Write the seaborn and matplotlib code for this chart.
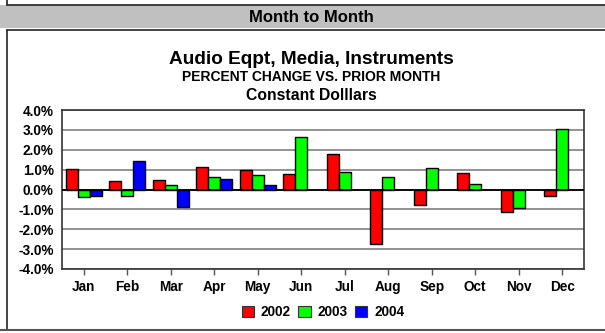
import matplotlib
matplotlib.use("Agg")
import matplotlib.pyplot as plt
from matplotlib.lines import Line2D
from matplotlib.patches import Rectangle
import seaborn as sns
import pandas as pd

months = ['Jan', 'Feb', 'Mar', 'Apr', 'May', 'Jun', 'Jul', 'Aug', 'Sep', 'Oct', 'Nov', 'Dec']
years = ['2002', '2003', '2004']
chg_2002 = [1.03, 0.43, 0.47, 1.15, 1.0, 0.78, 1.8, -2.75, -0.8, 0.83, -1.13, -0.32]
chg_2003 = [-0.4, -0.33, 0.23, 0.65, 0.75, 2.65, 0.87, 0.63, 1.08, 0.28, -0.92, 3.03]
chg_2004 = [-0.33, 1.43, -0.88, 0.53, 0.25]
colors = ['#FF0000', '#00FF00', '#0000FF']

rows = []
for yr, vals in zip(years, [chg_2002, chg_2003, chg_2004]):
    for m, v in zip(months, vals):
        rows.append({'Month': m, 'Year': yr, 'Change': v})
df = pd.DataFrame(rows)

sns.set_style('white')
plt.rcParams['font.family'] = ['Liberation Sans', 'DejaVu Sans']
plt.rcParams['font.weight'] = 'bold'
plt.rcParams['text.color'] = 'black'
plt.rcParams['xtick.color'] = 'black'
plt.rcParams['ytick.color'] = 'black'

W, H = 605, 333
fig = plt.figure(figsize=(W / 100, H / 100), dpi=100)

def fx(x):
    return x / W

def fy(y):
    return 1 - y / H

# header band and frames
fig.patches.append(Rectangle((0, fy(28)), 1, fy(5) - fy(28), transform=fig.transFigure,
                             facecolor='#C0C0C0', edgecolor='none', zorder=0))
frame = dict(transform=fig.transFigure, color='#222222', linewidth=1.2)
fig.lines.append(Line2D([fx(7), 1.01], [fy(4.5), fy(4.5)], **frame))
fig.lines.append(Line2D([fx(7), fx(7)], [1.01, fy(4.5)], **frame))
fig.lines.append(Line2D([fx(7), 1.01], [fy(30), fy(30)], **frame))
fig.lines.append(Line2D([fx(7), fx(7)], [fy(30), fy(330)], **frame))
fig.lines.append(Line2D([-0.01, 1.01], [fy(330), fy(330)], transform=fig.transFigure,
                        color='#555555', linewidth=1.5))

fig.text(fx(311), fy(17), 'Month to Month', ha='center', va='center', fontsize=12, fontweight='bold')
fig.text(fx(311), fy(60), 'Audio Eqpt, Media, Instruments', ha='center', va='center',
         fontsize=13.7, fontweight='bold')
fig.text(fx(311), fy(77), 'PERCENT CHANGE VS. PRIOR MONTH', ha='center', va='center',
         fontsize=10, fontweight='bold')
fig.text(fx(311), fy(96), 'Constant Dolllars', ha='center', va='center',
         fontsize=11.3, fontweight='bold')

ax = fig.add_axes([fx(62), fy(269), fx(584) - fx(62), fy(110) - fy(269)])
sns.barplot(data=df, x='Month', y='Change', hue='Year', order=months, hue_order=years,
            palette=colors, width=0.82, edgecolor='black', linewidth=1.0,
            saturation=1, ax=ax, legend=False, zorder=3)

ax.set_ylim(-4, 4)
ax.set_xlim(-0.5, 11.5)
ax.set_yticks(range(-4, 5))
ax.set_yticklabels([f'{v:.1f}%' for v in range(-4, 5)], fontsize=9.8, fontweight='bold')
ax.set_xticks(range(12))
ax.set_xticklabels(months, fontsize=9.8, fontweight='bold')
ax.set_xlabel('')
ax.set_ylabel('')
ax.yaxis.grid(True, color='#808080', linewidth=1.2)
ax.set_axisbelow(True)
ax.axhline(0, color='black', linewidth=1.3, zorder=4)
ax.tick_params(axis='x', length=4, width=1, color='#555555', direction='out', pad=4, bottom=True)
ax.tick_params(axis='y', length=0, pad=6)
for s in ax.spines.values():
    s.set_color('#333333')
    s.set_linewidth(1.2)

handles = [Rectangle((0, 0), 1, 1, facecolor=c, edgecolor='#333333', linewidth=0.8) for c in colors]
fig.legend(handles, years, loc='center', bbox_to_anchor=(fx(323), fy(312)), ncol=3,
           frameon=False, prop={'weight': 'bold', 'size': 9.8}, handlelength=0.9,
           handleheight=0.9, handletextpad=0.5, columnspacing=0.55)

fig.savefig('out.png', dpi=100)
